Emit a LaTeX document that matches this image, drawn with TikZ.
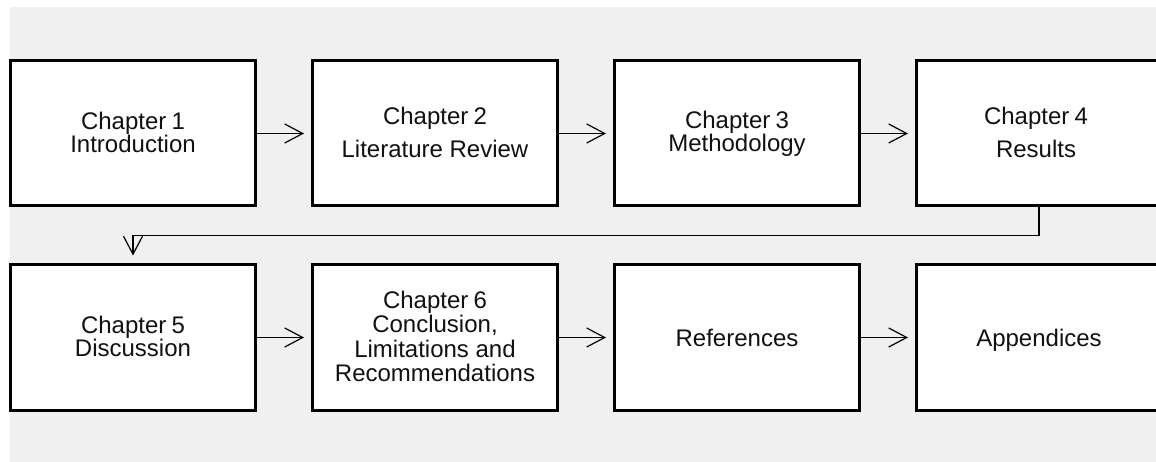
\documentclass[tikz,border=0pt]{standalone}
\usepackage{fontspec}
\setmainfont{Liberation Sans}
\usetikzlibrary{arrows.meta}
\definecolor{panel}{HTML}{F0F0F0}
\definecolor{ink}{HTML}{111111}
\begin{document}
\begin{tikzpicture}[x=1pt,y=-1pt,
  chapbox/.style={draw=black, fill=white, line width=3pt, minimum width=245pt,
    minimum height=145pt, inner sep=0pt},
  lbl/.style={anchor=base, inner sep=0pt, text=ink, font=\fontsize{24}{25}\selectfont},
  flow/.style={draw=black, line width=1.2pt, shorten >=7pt,
    -{Straight Barb[length=18pt,width=19pt,line width=1.2pt]}}
]
% page frame and grey panel
\useasboundingbox (0,0) rectangle (1156,462);
\clip (0,0) rectangle (1156,462);
\fill[white] (0,0) rectangle (1156,462);
\fill[panel] (10,7) rectangle (1156,462);

% top row
\node[chapbox] (b1) at (133,133.5) {};
\node[chapbox] (b2) at (435,133.5) {};
\node[chapbox] (b3) at (737,133.5) {};
\node[chapbox] (b4) at (1039,133.5) {};
% bottom row
\node[chapbox] (b5) at (133,337.5) {};
\node[chapbox] (b6) at (435,337.5) {};
\node[chapbox] (b7) at (737,337.5) {};
\node[chapbox] (b8) at (1039,337.5) {};

% labels
\node[lbl] (t1a) at (133,130) {Chapter\kern-1.5pt\ 1};
\node[lbl] (t1b) at (133,153) {Introduction};
\node[lbl] (t2a) at (435,125) {Chapter\kern-1.5pt\ 2};
\node[lbl] (t2b) at (435,158) {Literature Review};
\node[lbl] (t3a) at (737,129) {Chapter\kern-1.5pt\ 3};
\node[lbl] (t3b) at (737,152) {Methodology};
\node[lbl] (t4a) at (1036,125) {Chapter\kern-1.5pt\ 4};
\node[lbl] (t4b) at (1036,158) {Results};
\node[lbl] (t5a) at (133,333) {Chapter\kern-1.5pt\ 5};
\node[lbl] (t5b) at (133,356) {Discussion};
\node[lbl] (t6a) at (435,308) {Chapter\kern-1.5pt\ 6};
\node[lbl] (t6b) at (435,332) {Conclusion,};
\node[lbl] (t6c) at (435,357) {Limitations and};
\node[lbl] (t6d) at (435,381) {Recommendations};
\node[lbl] (t7) at (737,346) {References};
\node[lbl] (t8) at (1039,346) {Appendices};

% connectors
\draw[flow] (b1.east) -- (b2.west);
\draw[flow] (b2.east) -- (b3.west);
\draw[flow] (b3.east) -- (b4.west);
\draw[flow, line width=1.5pt, shorten >=8pt] (b4.south) -- ++(0,28) -| (b5.north);
\draw[flow] (b5.east) -- (b6.west);
\draw[flow] (b6.east) -- (b7.west);
\draw[flow] (b7.east) -- (b8.west);
\end{tikzpicture}
\end{document}
